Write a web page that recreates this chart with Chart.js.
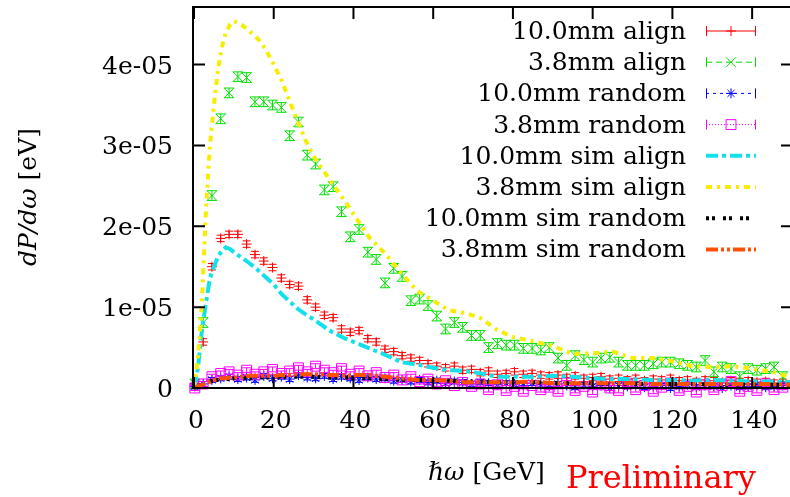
<!DOCTYPE html>
<html>
<head>
<meta charset="utf-8">
<script src="https://cdn.jsdelivr.net/npm/chart.js@4.4.1/dist/chart.umd.min.js"></script>
<style>
  html, body { margin: 0; padding: 0; background: #fff; overflow: hidden; }
  #wrap { width: 800px; height: 497px; }
</style>
</head>
<body>
<div id="wrap"><canvas id="myChart" width="800" height="497"></canvas></div>
<script>
// photon energy of the measured bins [GeV]
const energies = [
  0.2, 2.3, 4.5, 6.7, 8.8, 11.0, 13.2, 15.3, 17.5, 19.7,
  21.9, 24.0, 26.2, 28.4, 30.5, 32.7, 34.9, 37.0, 39.2, 41.4,
  43.6, 45.7, 47.9, 50.1, 52.2, 54.4, 56.6, 58.7, 60.9, 63.1,
  65.3, 67.4, 69.6, 71.8, 73.9, 76.1, 78.3, 80.4, 82.6, 84.8,
  87.0, 89.1, 91.3, 93.5, 95.6, 97.8, 100.0, 102.1, 104.3, 106.5,
  108.7, 110.8, 113.0, 115.2, 117.3, 119.5, 121.7, 123.8, 126.0, 128.2,
  130.4, 132.5, 134.7, 136.9, 139.0, 141.2, 143.4, 145.5, 147.7
];

// dP/dw, in units of 1e-05 eV
const align10 = [
  0.05, 0.57, 1.50, 1.85, 1.90, 1.90, 1.78, 1.65, 1.57, 1.49,
  1.36, 1.28, 1.26, 1.09, 1.00, 0.90, 0.87, 0.73, 0.69, 0.71,
  0.61, 0.57, 0.48, 0.45, 0.40, 0.37, 0.34, 0.30, 0.27, 0.25,
  0.27, 0.22, 0.23, 0.19, 0.21, 0.17, 0.18, 0.20, 0.17, 0.18,
  0.16, 0.15, 0.16, 0.13, 0.15, 0.12, 0.13, 0.14, 0.11, 0.12,
  0.10, 0.12, 0.09, 0.11, 0.10, 0.12, 0.09, 0.10, 0.08, 0.10,
  0.09, 0.07, 0.09, 0.08, 0.09, 0.07, 0.08, 0.06, 0.07
];
const align38 = [
  0.05, 0.81, 2.38, 3.33, 3.65, 3.85, 3.84, 3.54, 3.54, 3.50,
  3.47, 3.12, 3.29, 2.88, 2.77, 2.45, 2.49, 2.18, 1.87, 1.96,
  1.68, 1.59, 1.30, 1.48, 1.38, 1.08, 1.10, 1.02, 0.89, 0.73,
  0.81, 0.75, 0.65, 0.65, 0.50, 0.55, 0.53, 0.53, 0.49, 0.49,
  0.47, 0.50, 0.37, 0.28, 0.40, 0.35, 0.32, 0.37, 0.38, 0.32,
  0.28, 0.28, 0.28, 0.30, 0.32, 0.32, 0.30, 0.28, 0.26, 0.34,
  0.20, 0.26, 0.24, 0.14, 0.24, 0.22, 0.24, 0.26, 0.14
];
const random10 = [
  0.02, 0.05, 0.10, 0.12, 0.14, 0.11, 0.13, 0.10, 0.15, 0.12,
  0.14, 0.11, 0.16, 0.13, 0.12, 0.15, 0.11, 0.14, 0.12, 0.10,
  0.13, 0.11, 0.12, 0.09, 0.10, 0.08, 0.10, 0.07, 0.09, 0.06,
  0.08, 0.07, 0.05, 0.07, 0.06, 0.04, 0.06, 0.05, 0.03, 0.06,
  0.04, 0.02, 0.05, 0.03, 0.01, 0.04, 0.02, 0.03, 0.00, 0.03,
  0.02, 0.04, 0.01, 0.02, 0.03, 0.00, 0.02, 0.04, 0.01, 0.03,
  0.02, 0.00, 0.03, 0.01, 0.02, 0.04, 0.01, 0.02, 0.03
];
const random38 = [
  0.00, 0.05, 0.14, 0.18, 0.20, 0.16, 0.22, 0.17, 0.20, 0.23,
  0.18, 0.21, 0.25, 0.20, 0.27, 0.22, 0.19, 0.24, 0.17, 0.21,
  0.15, 0.19, 0.13, 0.16, 0.10, 0.14, 0.08, 0.11, 0.05, 0.09,
  0.03, 0.07, 0.02, 0.05, -0.02, 0.04, -0.03, 0.02, -0.04, 0.03,
  -0.02, 0.01, -0.04, 0.06, -0.03, 0.02, -0.05, 0.04, 0.00, -0.03,
  0.05, -0.02, 0.03, -0.04, 0.01, 0.06, -0.03, 0.02, -0.05, 0.04,
  -0.02, 0.03, 0.08, -0.04, 0.02, -0.03, 0.05, -0.02, 0.01
];
// error bar half size, same units
const errAlign10 = 0.04;
const errAlign38 = 0.06;
const errRandom10 = 0.03;
const errRandom38 = 0.03;

// simulation curves
const simEnergies = [
  0, 1, 2, 3, 4, 5, 6, 7, 8, 9, 10,
  12, 14, 16, 18, 20, 22, 24, 26, 28, 30, 32, 34, 36, 38, 40,
  44, 48, 52, 56, 60, 64, 68, 72, 76, 80,
  85, 90, 95, 100, 105, 110, 115, 120, 125, 130, 135, 140, 145, 150
];
const simAlign10 = [
  0, 0.25, 0.72, 1.05, 1.36, 1.50, 1.62, 1.70, 1.74, 1.72, 1.68,
  1.61, 1.54, 1.46, 1.37, 1.28, 1.16, 1.07, 0.98, 0.91, 0.85, 0.78, 0.71, 0.66, 0.61, 0.57,
  0.49, 0.41, 0.32, 0.29, 0.25, 0.22, 0.21, 0.18, 0.14, 0.14,
  0.14, 0.15, 0.14, 0.12, 0.11, 0.11, 0.10, 0.10, 0.09, 0.10, 0.09, 0.08, 0.08, 0.07
];
const simAlign38 = [
  0, 0.38, 1.08, 2.20, 3.00, 3.50, 3.93, 4.22, 4.40, 4.49, 4.54,
  4.49, 4.41, 4.32, 4.19, 4.00, 3.80, 3.55, 3.30, 3.06, 2.87, 2.72, 2.58, 2.44, 2.30, 2.15,
  1.86, 1.66, 1.42, 1.20, 1.08, 0.96, 0.93, 0.86, 0.72, 0.63,
  0.58, 0.52, 0.42, 0.43, 0.45, 0.37, 0.37, 0.33, 0.27, 0.26, 0.27, 0.24, 0.20, 0.13
];
const simRandom10 = [
  0, 0.02, 0.04, 0.06, 0.08, 0.09, 0.10, 0.10, 0.11, 0.11, 0.12,
  0.12, 0.12, 0.13, 0.13, 0.13, 0.14, 0.14, 0.14, 0.14, 0.14, 0.13, 0.13, 0.13, 0.13, 0.12,
  0.12, 0.11, 0.10, 0.10, 0.09, 0.09, 0.08, 0.08, 0.07, 0.07,
  0.07, 0.06, 0.06, 0.06, 0.05, 0.05, 0.05, 0.05, 0.05, 0.04, 0.04, 0.04, 0.04, 0.04
];
const simRandom38 = [
  0, 0.02, 0.04, 0.06, 0.08, 0.10, 0.11, 0.12, 0.12, 0.13, 0.13,
  0.14, 0.15, 0.15, 0.15, 0.15, 0.16, 0.16, 0.17, 0.17, 0.17, 0.17, 0.16, 0.16, 0.15, 0.16,
  0.16, 0.14, 0.12, 0.10, 0.10, 0.09, 0.07, 0.07, 0.07, 0.07,
  0.08, 0.06, 0.06, 0.06, 0.06, 0.06, 0.05, 0.05, 0.05, 0.05, 0.05, 0.05, 0.05, 0.04
];

const seriesNames = [
  '10.0mm align', '3.8mm align', '10.0mm random', '3.8mm random',
  '10.0mm sim align', '3.8mm sim align', '10.0mm sim random', '3.8mm sim random'
];
const xTicks = [0, 20, 40, 60, 80, 100, 120, 140];
const yTicks = [0, 1, 2, 3, 4];
const yTickLabels = ['0', '1e-05', '2e-05', '3e-05', '4e-05'];

const FONT = '"DejaVu Serif", serif';

function points(xs, ys) {
  return xs.map((x, i) => ({ x: x, y: ys[i] }));
}

function measured(i, values, err, color, style, radius, cap, dash) {
  return {
    label: seriesNames[i],
    data: points(energies, values),
    showLine: false,
    borderColor: color,
    backgroundColor: 'rgba(0,0,0,0)',
    pointStyle: style,
    pointRadius: radius,
    pointBorderWidth: 1,
    pointHoverRadius: radius,
    errorBar: err,
    capWidth: cap,
    legendDash: dash,
    legendWidth: 1,
    clip: false,
    order: 8 - i,
  };
}

function simulated(i, values, color, dash) {
  return {
    label: seriesNames[i],
    data: points(simEnergies, values),
    showLine: true,
    borderColor: color,
    backgroundColor: color,
    borderWidth: 4,
    borderDash: dash,
    pointRadius: 0,
    tension: 0,
    legendDash: dash,
    legendWidth: 4,
    clip: false,
    order: 8 - i,
  };
}

// frame with inward ticks and tick labels, like gnuplot
const frame = {
  id: 'frame',
  afterDraw(chart) {
    const { ctx, chartArea: a, scales: { x, y } } = chart;
    ctx.save();
    ctx.strokeStyle = '#000';
    ctx.lineWidth = 2;
    ctx.strokeRect(a.left - 1, a.top - 1, a.right - a.left + 1, a.bottom - a.top + 1);
    ctx.beginPath();
    xTicks.forEach((v) => {
      const px = x.getPixelForValue(v);
      ctx.moveTo(px, a.bottom); ctx.lineTo(px, a.bottom - 11);
      ctx.moveTo(px, a.top); ctx.lineTo(px, a.top + 11);
    });
    yTicks.forEach((v) => {
      const py = y.getPixelForValue(v);
      ctx.moveTo(a.left, py); ctx.lineTo(a.left + 11, py);
      ctx.moveTo(a.right, py); ctx.lineTo(a.right - 11, py);
    });
    ctx.stroke();

    ctx.fillStyle = '#000';
    ctx.font = '25px ' + FONT;
    ctx.textBaseline = 'alphabetic';
    ctx.textAlign = 'center';
    xTicks.forEach((v) => {
      ctx.fillText(String(v), x.getPixelForValue(v) + 2, a.bottom + 40);
    });
    ctx.textAlign = 'right';
    yTicks.forEach((v, i) => {
      ctx.fillText(yTickLabels[i], a.left - 21, y.getPixelForValue(v) + 9);
    });
    ctx.restore();
  },
};

const errorBars = {
  id: 'errorBars',
  afterDatasetDraw(chart, args) {
    const ds = chart.data.datasets[args.index];
    if (ds.errorBar === undefined) return;
    const { ctx, scales: { y } } = chart;
    ctx.save();
    ctx.strokeStyle = ds.borderColor;
    ctx.lineWidth = 1;
    ctx.beginPath();
    args.meta.data.forEach((pt, i) => {
      const v = ds.data[i].y;
      const yTop = y.getPixelForValue(v + ds.errorBar);
      const yBot = y.getPixelForValue(v - ds.errorBar);
      const w = ds.capWidth;
      ctx.moveTo(pt.x, yTop); ctx.lineTo(pt.x, yBot);
      ctx.moveTo(pt.x - w, yTop); ctx.lineTo(pt.x + w, yTop);
      ctx.moveTo(pt.x - w, yBot); ctx.lineTo(pt.x + w, yBot);
    });
    ctx.stroke();
    ctx.restore();
  },
};

const legendBox = {
  id: 'legendBox',
  afterDraw(chart) {
    const { ctx } = chart;
    ctx.save();
    chart.data.datasets.forEach((ds, i) => {
      const y = 31 + i * 31.2;
      ctx.font = '25px ' + FONT;
      ctx.fillStyle = '#000';
      ctx.textAlign = 'right';
      ctx.textBaseline = 'alphabetic';
      ctx.fillText(ds.label, 686, y + 8);

      ctx.strokeStyle = ds.borderColor;
      ctx.lineWidth = ds.legendWidth;
      ctx.setLineDash(ds.legendDash);
      ctx.beginPath();
      ctx.moveTo(706, y); ctx.lineTo(756, y);
      ctx.stroke();
      ctx.setLineDash([]);
      if (ds.errorBar !== undefined) {
        ctx.lineWidth = 1;
        ctx.beginPath();
        ctx.moveTo(706.5, y - 5); ctx.lineTo(706.5, y + 5);
        ctx.moveTo(755.5, y - 5); ctx.lineTo(755.5, y + 5);
        ctx.stroke();
        ctx.fillStyle = 'rgba(0,0,0,0)';
        Chart.helpers.drawPoint(ctx, {
          pointStyle: ds.pointStyle, radius: ds.pointRadius, rotation: 0, borderWidth: 1,
        }, 731, y);
      }
    });
    ctx.restore();
  },
};

const titles = {
  id: 'titles',
  afterDraw(chart) {
    const { ctx } = chart;
    ctx.save();
    ctx.fillStyle = '#000';
    ctx.textBaseline = 'alphabetic';
    // y title, rotated
    ctx.translate(36, 197);
    ctx.rotate(-Math.PI / 2);
    ctx.font = 'italic 25px ' + FONT;
    const a = 'dP/dω';
    const wa = ctx.measureText(a).width;
    ctx.font = '25px ' + FONT;
    const b = ' [eV]';
    const wb = ctx.measureText(b).width;
    const sx = -(wa + wb) / 2;
    ctx.textAlign = 'left';
    ctx.font = 'italic 25px ' + FONT;
    ctx.fillText(a, sx, 0);
    ctx.font = '25px ' + FONT;
    ctx.fillText(b, sx + wa, 0);
    ctx.setTransform(1, 0, 0, 1, 0, 0);
    // x title
    ctx.font = 'italic 25px ' + FONT;
    ctx.fillText('ℏω', 428, 480);
    const wh = ctx.measureText('ℏω').width;
    ctx.font = '25px ' + FONT;
    ctx.fillText(' [GeV]', 428 + wh, 480);
    // watermark
    ctx.fillStyle = '#ff0000';
    ctx.font = '32px ' + FONT;
    ctx.fillText('Preliminary', 566, 488);
    ctx.restore();
  },
};

const config = {
  type: 'scatter',
  data: {
    datasets: [
      measured(0, align10, errAlign10, '#ff0000', 'cross', 5, 4, []),
      measured(1, align38, errAlign38, '#00e000', 'crossRot', 7, 5, [6, 4]),
      measured(2, random10, errRandom10, '#0000ff', 'star', 5, 4, [3, 4]),
      measured(3, random38, errRandom38, '#ff00ff', 'rect', 7, 5, [1, 2]),
      simulated(4, simAlign10, '#14e0ea', [12, 4, 4, 4]),
      simulated(5, simAlign38, '#f5ee00', [6, 5, 3, 5]),
      simulated(6, simRandom10, '#000000', [3, 3, 3, 8]),
      simulated(7, simRandom38, '#ff5000', [12, 3, 3, 3, 3, 3]),
    ],
  },
  options: {
    responsive: false,
    animation: false,
    layout: { padding: { top: 4, right: 6, left: 0, bottom: 0 } },
    plugins: {
      legend: { display: false },
      tooltip: { enabled: false },
    },
    scales: {
      x: {
        type: 'linear',
        min: 0,
        max: 150,
        afterFit: (s) => {
          s.height = 109;
          s.paddingLeft = 0; s.paddingRight = 0; s.paddingTop = 0; s.paddingBottom = 0;
        },
        afterBuildTicks: (s) => { s.ticks = xTicks.map((v) => ({ value: v })); },
        grid: { display: false, drawTicks: false },
        border: { display: false },
        ticks: { display: false },
      },
      y: {
        type: 'linear',
        min: 0,
        max: 4.7,
        afterFit: (s) => {
          s.width = 194;
          s.paddingLeft = 0; s.paddingRight = 0; s.paddingTop = 0; s.paddingBottom = 0;
        },
        afterBuildTicks: (s) => { s.ticks = yTicks.map((v) => ({ value: v })); },
        grid: { display: false, drawTicks: false },
        border: { display: false },
        ticks: { display: false },
      },
    },
  },
  plugins: [errorBars, frame, legendBox, titles],
};

const myChart = new Chart(document.getElementById('myChart'), config);
</script>
</body>
</html>
